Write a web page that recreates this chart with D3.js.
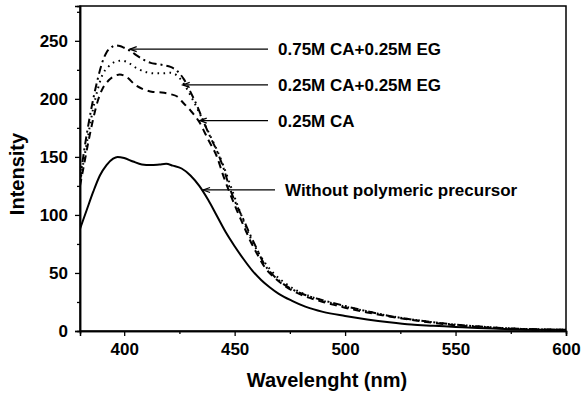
<!DOCTYPE html>
<html><head><meta charset="utf-8">
<script src="https://cdn.jsdelivr.net/npm/d3@7"></script>
<style>
body{margin:0;background:#fff;}
svg{display:block;font-family:"Liberation Sans",Arial,Helvetica,sans-serif;font-weight:bold;}
</style></head>
<body>
<svg id="chart" width="582" height="396"></svg>
<script>
// ---- data ----
const withoutNm = [380,383,386,389,392,395,397,400,404,408,412,416,419,422,426,430,434,438,442,446,450,454,458,462,466,470,476,482,490,500,510,520,530,540,550,560,575,590,600];
const withoutI  = [88,104,120,134,143,148.5,150,149,146,143.5,143,143.5,144,142.5,140,134,125,113,99,85,73,62,52,44,37.5,32,26,21,16.5,13,10,7.5,5.5,4.5,3.5,2.5,1.5,1,1];

const caNm = [380,382,384,386,388,390,393,396,398,401,405,409,413,417,421,424,427,430,434,438,442,445,448,451,454,457,460,464,468,473,478,484,490,495,500,510,520,530,540,550,560,575,590,600];
const caI  = [125,145,165,183,198,208,216,220,221,219,212,208,206,205.5,204,202,196,190,180,165,150,133,118,104,91,78,67,54,46,38.5,33,28.5,25,22.5,20,16,12.5,9.5,7,5,3.5,2,1.2,1];

const caEgNm = [380,382,384,386,388,390,393,396,399,402,406,410,414,418,421,424,427,430,433,436,439,442,445,448,451,454,457,460,464,468,473,478,484,490,495,500,510,520,530,540,550,560,575,590,600];
const caEgI  = [128,150,172,192,208,220,228,232,233,231,226,223,222,222,222.5,220,213,203,192,180,168,156,142,126,110,95,81,70,58,49,41,35,30,26,23.5,21,17,13,10,7.5,5.5,4,2.2,1.3,1];

const ca75Nm = [380,382,384,386,388,390,392,394,396,398,400,403,406,409,412,415,418,421,424,427,430,433,436,439,442,445,448,451,454,457,460,463,467,471,476,482,488,495,500,510,520,530,540,550,560,575,590,600];
const ca75I  = [130,157,180,200,217,231,240,244,246,245.5,244,241,237,233.5,231,230,229,227.5,224,217,206,194,180,167,155,140,122,108,96,83,71,59,49,42,36,31,27.5,24,21.5,17,13,10,7.5,5.5,4,2.2,1.3,1];

const seriesNames = ["Without polymeric precursor","0.25M CA","0.25M CA+0.25M EG","0.75M CA+0.25M EG"];
// annotation: label, arrow tip wavelength, label intensity level
const labelNames = ["0.75M CA+0.25M EG","0.25M CA+0.25M EG","0.25M CA","Without polymeric precursor"];
const labelTipNm = [402.5, 426.5, 434.2, 435.7];
const labelLevel = [242.8, 212, 181.3, 121.5];

const xTicks = [400,450,500,550,600];
const yTicks = [0,50,100,150,200,250];
const xMinor = [425,475,525,575];
const yMinor = [25,75,125,175,225,275];
const xTitle = "Wavelenght (nm)";
const yTitle = "Intensity";

// ---- layout ----
const W = 582, H = 396;
const m = {l:80, t:6, r:16, b:65};
const svg = d3.select("#chart");
const x = d3.scaleLinear().domain([380,600]).range([m.l, W-m.r]);
const y = d3.scaleLinear().domain([0,280]).range([H-m.b, m.t]);

// frame
svg.append("rect").attr("x",m.l).attr("y",m.t).attr("width",W-m.l-m.r).attr("height",H-m.t-m.b)
  .attr("fill","none").attr("stroke","#000").attr("stroke-width",1.5);

// axes
const xAx = svg.append("g").attr("transform",`translate(0,${H-m.b})`)
  .call(d3.axisBottom(x).tickValues(xTicks).tickSize(5).tickPadding(7).tickFormat(d3.format("d")));
const xAxMin = svg.append("g").attr("transform",`translate(0,${H-m.b})`)
  .call(d3.axisBottom(x).tickValues(xMinor).tickSize(3).tickFormat(""));
const yAx = svg.append("g").attr("transform",`translate(${m.l},0)`)
  .call(d3.axisLeft(y).tickValues(yTicks).tickSize(5).tickPadding(7).tickFormat(d3.format("d")));
const yAxMin = svg.append("g").attr("transform",`translate(${m.l},0)`)
  .call(d3.axisLeft(y).tickValues(yMinor).tickSize(3).tickFormat(""));
[xAx,xAxMin,yAx,yAxMin].forEach(g=>{
  g.select(".domain").attr("stroke","#000").attr("stroke-width",1.5);
  g.selectAll(".tick line").attr("stroke","#000").attr("stroke-width",1.3);
  g.selectAll("text").attr("fill","#000").style("font-size","17px").style("font-weight","bold")
   .style("font-family",'"Liberation Sans",Arial,sans-serif');
});

// titles
svg.append("text").attr("x",327).attr("y",387).attr("text-anchor","middle")
  .style("font-size","20px").text(xTitle);
svg.append("text").attr("transform","translate(24,174) rotate(-90)").attr("text-anchor","middle")
  .style("font-size","20px").text(yTitle);

// curves
const line = d3.line().x(d=>x(d[0])).y(d=>y(d[1])).curve(d3.curveMonotoneX);
const data = [
  {nm:withoutNm, v:withoutI, dash:null},
  {nm:caNm, v:caI, dash:"7,5"},
  {nm:caEgNm, v:caEgI, dash:"1.6,4.4"},
  {nm:ca75Nm, v:ca75I, dash:"8,4,2,4"}
];
const clip = svg.append("clipPath").attr("id","clp").append("rect")
  .attr("x",m.l).attr("y",m.t).attr("width",W-m.l-m.r).attr("height",H-m.t-m.b);
data.forEach((s,i)=>{
  const pts = s.nm.map((n,j)=>[n,s.v[j]]);
  svg.append("path").datum(pts).attr("d",line).attr("fill","none")
    .attr("stroke","#000").attr("stroke-width",2)
    .attr("stroke-dasharray",s.dash).attr("clip-path","url(#clp)")
    .append("title").text(seriesNames[i]);
});

// annotations with arrows
labelNames.forEach((t,i)=>{
  const ty = y(labelLevel[i]);
  const tx = x(labelTipNm[i]);
  const endX = i===3 ? 275 : 268;
  const g = svg.append("g");
  g.append("line").attr("x1",tx).attr("y1",ty).attr("x2",endX).attr("y2",ty)
    .attr("stroke","#000").attr("stroke-width",1.2);
  g.append("path").attr("d",`M${tx+7},${ty-2.5}L${tx},${ty}L${tx+7},${ty+2.5}`)
    .attr("fill","none").attr("stroke","#000").attr("stroke-width",1.2);
  g.append("text").attr("x",endX+10).attr("y",ty).attr("dy","0.36em")
    .style("font-size","17px").text(t);
});
</script>
</body></html>
